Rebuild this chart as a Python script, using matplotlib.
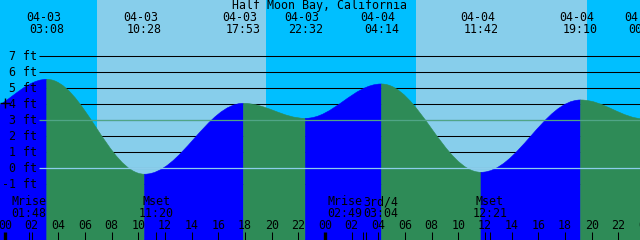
import matplotlib
matplotlib.use("Agg")
import matplotlib.pyplot as plt
from matplotlib.path import Path
from matplotlib.patches import PathPatch

# ---------------- data ----------------
title = "Half Moon Bay, California"

# tide extremes (date, time, height in ft)
tide_dates = ["04-02", "04-03", "04-03", "04-03", "04-03", "04-04", "04-04", "04-04", "04-05"]
tide_times = ["22:00", "03:08", "10:28", "17:53", "22:32", "04:14", "11:42", "19:10", "00:02"]
tide_heights = [3.50, 5.56, -0.37, 4.06, 3.12, 5.27, -0.25, 4.27, 3.08]

# sun events
sunrise = ["04-03 06:52", "04-04 06:50"]
sunset = ["04-03 19:35", "04-04 19:38"]

# moon events
moon_labels = ["Mrise", "Mset", "Mrise", "3rd/4", "Mset"]
moon_times = ["04-03 01:48", "04-03 11:20", "04-04 02:49", "04-04 03:04", "04-04 12:21"]

# "now" marker
now_time = "04-03 00:00"
now_height = 4.1

# axis levels
grid_levels = [-1, 0, 1, 2, 3, 4, 5, 6, 7]
datum_level = 0
mean_level = 3
hour_labels = ["00", "02", "04", "06", "08", "10", "12", "14", "16", "18", "20", "22",
               "00", "02", "04", "06", "08", "10", "12", "14", "16", "18", "20", "22", "00"]

# ---------------- helpers ----------------
W, H = 640, 240
PX_PER_HOUR = 320 / 24.0
X0 = 5.0          # pixel of 04-03 00:00
Y0 = 168.3        # pixel of 0 ft
PX_PER_FT = 16.0

def hours(date, time):
    day = int(date.split("-")[1]) - 3
    hh, mm = time.split(":")
    return day * 24 + int(hh) + int(mm) / 60.0

def hours_dt(s):
    d, t = s.split()
    return hours(d, t)

def xh(px):
    return (px - X0) / PX_PER_HOUR

def yf(py):
    return (Y0 - py) / PX_PER_FT

NIGHT = (0 / 255, 191 / 255, 255 / 255)
DAY = (135 / 255, 206 / 255, 235 / 255)
FLOOD = (0, 0, 1)
EBB = (46 / 255, 139 / 255, 87 / 255)
DATUM_C = (140 / 255, 205 / 255, 235 / 255)
MSL_C = (80 / 255, 165 / 255, 135 / 255)

FONT = dict(family="DejaVu Sans Mono", fontsize=8.4, color="black")

fig = plt.figure(figsize=(W / 100, H / 100), dpi=100)
ax = fig.add_axes([0, 0, 1, 1])
ax.set_axis_off()
xmin, xmax = xh(0), xh(W)
ymin, ymax = yf(H), yf(0)
ax.set_xlim(xmin, xmax)
ax.set_ylim(ymin, ymax)

# ---------------- background day/night ----------------
rise_h = [hours_dt(s) for s in sunrise]
set_h = [hours_dt(s) for s in sunset]
ax.axvspan(xmin, xmax, color=NIGHT, zorder=0, lw=0)
for r, s in zip(rise_h, set_h):
    ax.axvspan(r, s, color=DAY, zorder=0.5, lw=0)

# ---------------- grid ----------------
ax.hlines(grid_levels, xh(39), xmax, colors="black", lw=0.75, zorder=1)

# ---------------- tide curve ----------------
th = [hours(d, t) for d, t in zip(tide_dates, tide_times)]
a = 0.363
for i in range(len(th) - 1):
    t0, t1 = th[i], th[i + 1]
    h0, h1 = tide_heights[i], tide_heights[i + 1]
    d = t1 - t0
    verts = [(t0, ymin), (t0, h0), (t0 + a * d, h0), (t1 - a * d, h1), (t1, h1), (t1, ymin), (t0, ymin)]
    codes = [Path.MOVETO, Path.LINETO, Path.CURVE4, Path.CURVE4, Path.CURVE4, Path.LINETO, Path.CLOSEPOLY]
    col = FLOOD if h1 > h0 else EBB
    ax.add_patch(PathPatch(Path(verts, codes), facecolor=col, edgecolor=col, lw=0.4, zorder=2))

# datum and mean lines on top
ax.hlines([datum_level], xh(39), xmax, colors=[DATUM_C], lw=0.9, zorder=3)
ax.hlines([mean_level], xh(39), xmax, colors=[MSL_C], lw=0.9, zorder=3)

# ---------------- y labels ----------------
for v in grid_levels:
    ax.text(xh(36.8), v, f"{v} ft", ha="right", va="center", zorder=5, **FONT)

# now marker
ax.plot([hours_dt(now_time)], [now_height], marker="+", ms=7, mew=1.0, color="black", zorder=6)

# ---------------- top labels ----------------
ax.text(xh(320), yf(5.5), title, ha="center", va="center", zorder=5, **FONT)
for d, t, x in zip(tide_dates, tide_times, th):
    if x < xmin:
        continue
    ax.text(x - 3.5 / PX_PER_HOUR, yf(17.5), d, ha="center", va="center", zorder=5, **FONT)
    ax.text(x, yf(29.3), t, ha="center", va="center", zorder=5, **FONT)

# ---------------- bottom: hour ticks & labels ----------------
for k, lab in enumerate(hour_labels):
    hx = 2 * k
    ax.text(hx, yf(225.7), lab, ha="center", va="center", zorder=5, **FONT)
    lw = 2.4 if hx % 24 == 0 else 0.75
    ax.vlines(hx, yf(240), yf(231.5), colors="black", lw=lw, zorder=5)

# moon events
mh = [hours_dt(s) for s in moon_times]
for i, (lab, s, x) in enumerate(zip(moon_labels, moon_times, mh)):
    ha = "center"
    if i + 1 < len(mh) and (mh[i + 1] - x) * PX_PER_HOUR < 30:
        ha = "right"
    elif i > 0 and (x - mh[i - 1]) * PX_PER_HOUR < 30:
        ha = "left"
    off = 0.0
    if ha == "left":
        off = -2.5 / PX_PER_HOUR
    ax.text(x + off, yf(201.7), lab, ha=ha, va="center", zorder=5, **FONT)
    ax.text(x + off, yf(213.3), s.split()[1], ha=ha, va="center", zorder=5, **FONT)
    ax.vlines(x, yf(240), yf(231.5), colors="black", lw=0.75, zorder=5)

fig.savefig("out.png", dpi=100)
